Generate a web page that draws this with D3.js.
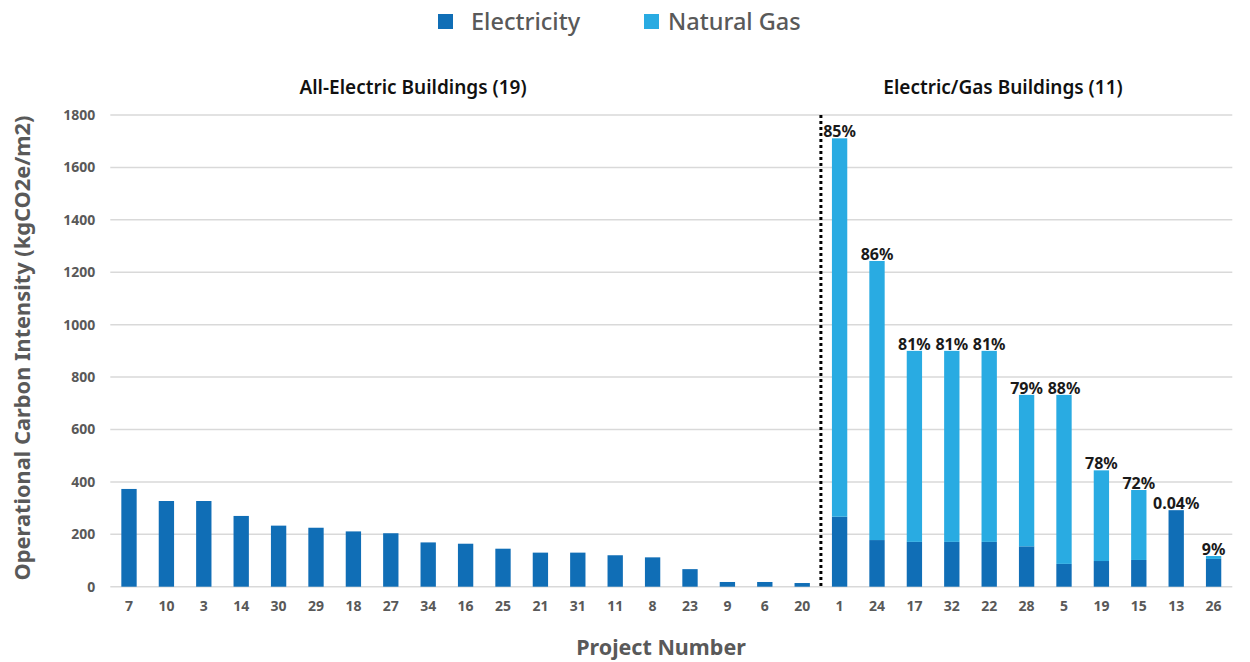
<!DOCTYPE html>
<html><head><meta charset="utf-8">
<script src="https://cdn.jsdelivr.net/npm/d3@7"></script>
<style>body{margin:0;background:#fff;} svg{display:block;}</style>
</head><body>
<svg id="chart" width="1250" height="662"></svg>
<script>
const projects = ["7","10","3","14","30","29","18","27","34","16","25","21","31","11","8","23","9","6","20","1","24","17","32","22","28","5","19","15","13","26"];
const electricity = [373,327,327,270,233,225,211,204,169,164,145,130,130,120,112,67,18,18,14,267,178,171,171,171,154,87,98,102,292,106];
const naturalGas = [0,0,0,0,0,0,0,0,0,0,0,0,0,0,0,0,0,0,0,1444,1065,729,729,729,578,645,346,267,0.1,11];
const gasShareLabels = ["","","","","","","","","","","","","","","","","","","","85%","86%","81%","81%","81%","79%","88%","78%","72%","0.04%","9%"];
const yTicks = [0,200,400,600,800,1000,1200,1400,1600,1800];
const groupNames = ["All-Electric Buildings (19)","Electric/Gas Buildings (11)"];
const seriesNames = ["Electricity","Natural Gas"];
const colors = {"Electricity":"#106EB6","Natural Gas":"#29ABE2"};

const svg = d3.select("#chart");
const font = "'Noto Sans', 'Open Sans', sans-serif";
const mLeft = 110.3, mRight = 1232.3, mTop = 115, mBottom = 586.7;

const x = d3.scaleBand().domain(projects).range([mLeft,mRight]).paddingInner(0.59).paddingOuter(0.295);
const y = d3.scaleLinear().domain([0,1800]).range([mBottom,mTop]);

// gridlines
svg.append("g").selectAll("line").data(yTicks).join("line")
  .attr("x1",mLeft).attr("x2",mRight)
  .attr("y1",d=>y(d)).attr("y2",d=>y(d))
  .attr("stroke","#d9d9d9").attr("stroke-width",1.5);

// y axis
const yAxis = svg.append("g").attr("transform",`translate(${mLeft},0)`)
  .call(d3.axisLeft(y).tickValues(yTicks).tickFormat(d3.format("d")).tickSize(0).tickPadding(15));
yAxis.select(".domain").remove();
yAxis.selectAll("text").attr("font-family",font).attr("font-size",14).attr("font-weight",700).attr("fill","#595959");

// x axis
const xAxis = svg.append("g").attr("transform",`translate(0,${mBottom})`)
  .call(d3.axisBottom(x).tickSize(0).tickPadding(14));
xAxis.select(".domain").remove();
xAxis.selectAll("text").attr("font-family",font).attr("font-size",14).attr("font-weight",700).attr("fill","#595959");

// stacked bars
const data = projects.map((p,i)=>({project:p, "Electricity":electricity[i], "Natural Gas":naturalGas[i], label:gasShareLabels[i]}));
const stack = d3.stack().keys(seriesNames)(data);
svg.append("g").selectAll("g").data(stack).join("g")
  .attr("fill",d=>colors[d.key])
  .selectAll("rect").data(d=>d).join("rect")
  .attr("x",d=>x(d.data.project))
  .attr("width",x.bandwidth())
  .attr("y",d=>y(d[1]))
  .attr("height",d=>Math.max(0,y(d[0])-y(d[1])));

// percentage labels
svg.append("g").selectAll("text").data(data.filter(d=>d.label)).join("text")
  .attr("x",d=>x(d.project)+x.bandwidth()/2)
  .attr("y",d=>y(d["Electricity"]+d["Natural Gas"])-1)
  .attr("text-anchor","middle")
  .attr("font-family",font).attr("font-size",16).attr("font-weight",700).attr("fill","#1a1a1a")
  .text(d=>d.label);

// divider
const divX = (x(projects[18])+x.bandwidth() + x(projects[19]))/2;
svg.append("line").attr("x1",divX).attr("x2",divX).attr("y1",mTop).attr("y2",mBottom+2)
  .attr("stroke","#000").attr("stroke-width",3).attr("stroke-dasharray","3,3");

// group titles
const titleX = [413, 1003];
svg.append("g").selectAll("text").data(groupNames).join("text")
  .attr("x",(d,i)=>titleX[i])
  .attr("y",94)
  .attr("text-anchor","middle")
  .attr("font-family",font).attr("font-size",19).attr("font-weight",600).attr("fill","#111")
  .text(d=>d);

// legend
const legendPos = [{sx:438,tx:471},{sx:644,tx:668}];
const lg = svg.append("g").selectAll("g").data(seriesNames).join("g");
lg.append("rect").attr("x",(d,i)=>legendPos[i].sx).attr("y",14).attr("width",15).attr("height",15).attr("fill",d=>colors[d]);
lg.append("text").attr("x",(d,i)=>legendPos[i].tx).attr("y",30).attr("font-family",font).attr("font-size",23.5).attr("font-weight",500).attr("fill","#595959").text(d=>d);

// axis titles
svg.append("text").attr("transform","translate(30,348) rotate(-90)").attr("text-anchor","middle")
  .attr("font-family",font).attr("font-size",21.8).attr("font-weight",700).attr("fill","#595959")
  .text("Operational Carbon Intensity (kgCO2e/m2)");
svg.append("text").attr("x",661).attr("y",655).attr("text-anchor","middle")
  .attr("font-family",font).attr("font-size",21.5).attr("font-weight",700).attr("fill","#595959")
  .text("Project Number");
</script>
</body></html>
